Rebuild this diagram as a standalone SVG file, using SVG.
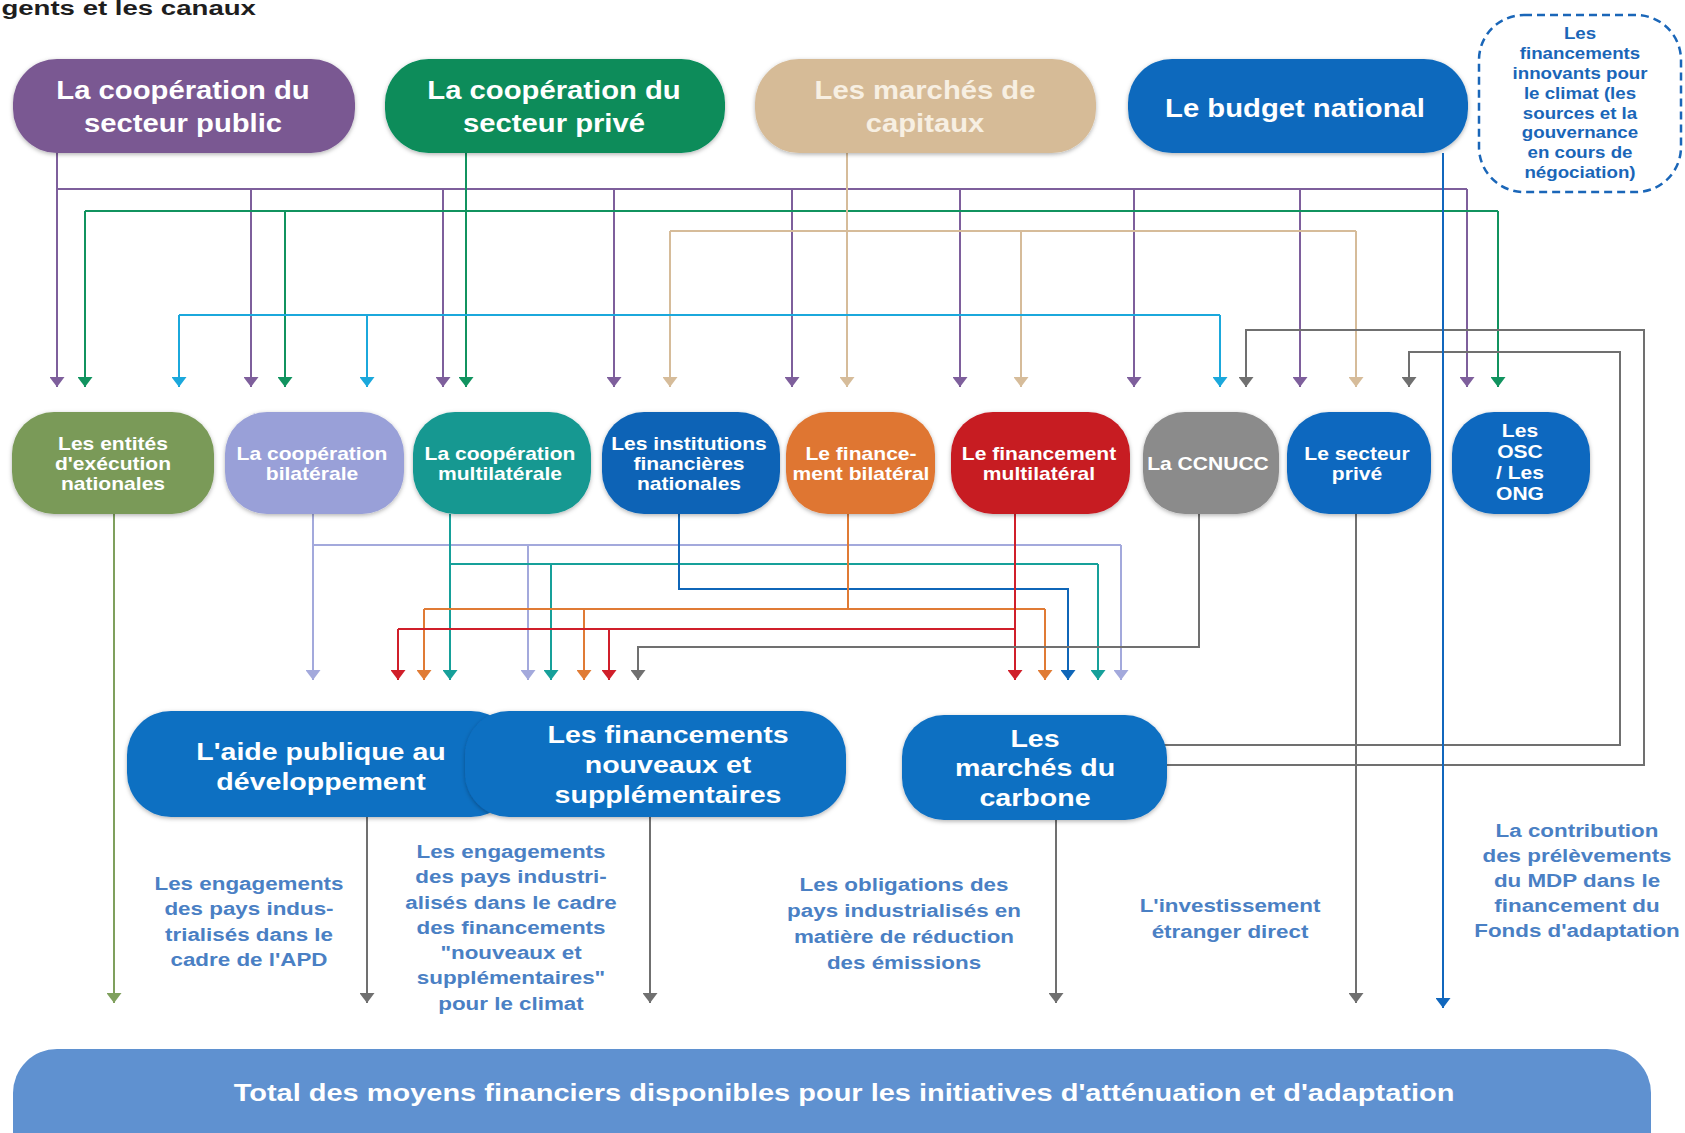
<svg xmlns="http://www.w3.org/2000/svg" width="1685" height="1133" viewBox="0 0 1685 1133">
<style>
text{font-family:"Liberation Sans",Arial,sans-serif;font-weight:bold;text-anchor:middle}
.tt{font-size:25px;fill:#fff}
.tan{fill:#f7efe2}
.mt{font-size:18px;fill:#fff}
.lt{font-size:24px;fill:#fff}
.lb{font-size:17.5px;fill:#4a80c4}
.dt{font-size:17px;fill:#1a66b8}
.bt{font-size:23px;fill:#fff}
.title{font-size:20px;fill:#1e1e1e;text-anchor:start}
.node{filter:url(#sh)}
#connectors path{fill:none;stroke-width:2}
.pu{stroke:#7e5f9c}.gr{stroke:#11935f}.ta{stroke:#d6bc9a}.cy{stroke:#1ba8dc}.gy{stroke:#707070}
.bu{stroke:#1167bd}.ol{stroke:#7fa05d}.la{stroke:#a3a9dc}.te{stroke:#16a09a}.in{stroke:#0f66b8}
.or{stroke:#e07b35}.re{stroke:#d01f2a}
</style>
<defs>
<filter id="sh" x="-10%" y="-10%" width="120%" height="130%">
<feDropShadow dx="0" dy="1.5" stdDeviation="2" flood-color="#000" flood-opacity="0.3"/>
</filter>
<marker id="a-pu" viewBox="0 0 10 15" markerUnits="userSpaceOnUse" markerWidth="10" markerHeight="15" refX="10" refY="7.5" orient="auto"><path d="M0,0 L10,7.5 L0,15 Z" fill="#7e5f9c"/></marker>
<marker id="a-gr" viewBox="0 0 10 15" markerUnits="userSpaceOnUse" markerWidth="10" markerHeight="15" refX="10" refY="7.5" orient="auto"><path d="M0,0 L10,7.5 L0,15 Z" fill="#11935f"/></marker>
<marker id="a-ta" viewBox="0 0 10 15" markerUnits="userSpaceOnUse" markerWidth="10" markerHeight="15" refX="10" refY="7.5" orient="auto"><path d="M0,0 L10,7.5 L0,15 Z" fill="#d6bc9a"/></marker>
<marker id="a-cy" viewBox="0 0 10 15" markerUnits="userSpaceOnUse" markerWidth="10" markerHeight="15" refX="10" refY="7.5" orient="auto"><path d="M0,0 L10,7.5 L0,15 Z" fill="#1ba8dc"/></marker>
<marker id="a-gy" viewBox="0 0 10 15" markerUnits="userSpaceOnUse" markerWidth="10" markerHeight="15" refX="10" refY="7.5" orient="auto"><path d="M0,0 L10,7.5 L0,15 Z" fill="#707070"/></marker>
<marker id="a-bu" viewBox="0 0 10 15" markerUnits="userSpaceOnUse" markerWidth="10" markerHeight="15" refX="10" refY="7.5" orient="auto"><path d="M0,0 L10,7.5 L0,15 Z" fill="#1167bd"/></marker>
<marker id="a-ol" viewBox="0 0 10 15" markerUnits="userSpaceOnUse" markerWidth="10" markerHeight="15" refX="10" refY="7.5" orient="auto"><path d="M0,0 L10,7.5 L0,15 Z" fill="#7fa05d"/></marker>
<marker id="a-la" viewBox="0 0 10 15" markerUnits="userSpaceOnUse" markerWidth="10" markerHeight="15" refX="10" refY="7.5" orient="auto"><path d="M0,0 L10,7.5 L0,15 Z" fill="#a3a9dc"/></marker>
<marker id="a-te" viewBox="0 0 10 15" markerUnits="userSpaceOnUse" markerWidth="10" markerHeight="15" refX="10" refY="7.5" orient="auto"><path d="M0,0 L10,7.5 L0,15 Z" fill="#16a09a"/></marker>
<marker id="a-in" viewBox="0 0 10 15" markerUnits="userSpaceOnUse" markerWidth="10" markerHeight="15" refX="10" refY="7.5" orient="auto"><path d="M0,0 L10,7.5 L0,15 Z" fill="#0f66b8"/></marker>
<marker id="a-or" viewBox="0 0 10 15" markerUnits="userSpaceOnUse" markerWidth="10" markerHeight="15" refX="10" refY="7.5" orient="auto"><path d="M0,0 L10,7.5 L0,15 Z" fill="#e07b35"/></marker>
<marker id="a-re" viewBox="0 0 10 15" markerUnits="userSpaceOnUse" markerWidth="10" markerHeight="15" refX="10" refY="7.5" orient="auto"><path d="M0,0 L10,7.5 L0,15 Z" fill="#d01f2a"/></marker>
</defs>
<rect width="1685" height="1133" fill="#fff"/>

<g id="title" transform="scale(1.38 1)"><text class="title" x="1" y="15">gents et les canaux</text></g>

<g id="connectors">
<path class="pu" d="M57,153 V387" marker-end="url(#a-pu)"/>
<path class="pu" d="M57,189 H1467"/>
<path class="pu" d="M251,189 V387" marker-end="url(#a-pu)"/>
<path class="pu" d="M443,189 V387" marker-end="url(#a-pu)"/>
<path class="pu" d="M614,189 V387" marker-end="url(#a-pu)"/>
<path class="pu" d="M792,189 V387" marker-end="url(#a-pu)"/>
<path class="pu" d="M960,189 V387" marker-end="url(#a-pu)"/>
<path class="pu" d="M1134,189 V387" marker-end="url(#a-pu)"/>
<path class="pu" d="M1300,189 V387" marker-end="url(#a-pu)"/>
<path class="pu" d="M1467,189 V387" marker-end="url(#a-pu)"/>
<path class="gr" d="M85,211 H1498"/>
<path class="gr" d="M466,153 V387" marker-end="url(#a-gr)"/>
<path class="gr" d="M85,211 V387" marker-end="url(#a-gr)"/>
<path class="gr" d="M285,211 V387" marker-end="url(#a-gr)"/>
<path class="gr" d="M1498,211 V387" marker-end="url(#a-gr)"/>
<path class="ta" d="M670,231 H1356"/>
<path class="ta" d="M847,153 V387" marker-end="url(#a-ta)"/>
<path class="ta" d="M670,231 V387" marker-end="url(#a-ta)"/>
<path class="ta" d="M1021,231 V387" marker-end="url(#a-ta)"/>
<path class="ta" d="M1356,231 V387" marker-end="url(#a-ta)"/>
<path class="cy" d="M179,315 H1220"/>
<path class="cy" d="M179,315 V387" marker-end="url(#a-cy)"/>
<path class="cy" d="M367,315 V387" marker-end="url(#a-cy)"/>
<path class="cy" d="M1220,315 V387" marker-end="url(#a-cy)"/>
<path class="gy" d="M1164,765 H1644 V330 H1246 V387" marker-end="url(#a-gy)"/>
<path class="gy" d="M1164,745 H1620 V352 H1409 V387" marker-end="url(#a-gy)"/>
<path class="bu" d="M1443,153 V1008" marker-end="url(#a-bu)"/>
<path class="ol" d="M114,514 V1003" marker-end="url(#a-ol)"/>
<path class="la" d="M313,545 H1121"/>
<path class="la" d="M313,514 V680" marker-end="url(#a-la)"/>
<path class="la" d="M528,545 V680" marker-end="url(#a-la)"/>
<path class="la" d="M1121,545 V680" marker-end="url(#a-la)"/>
<path class="te" d="M450,564 H1098"/>
<path class="te" d="M450,514 V680" marker-end="url(#a-te)"/>
<path class="te" d="M551,564 V680" marker-end="url(#a-te)"/>
<path class="te" d="M1098,564 V680" marker-end="url(#a-te)"/>
<path class="in" d="M679,514 V589 H1068 V680" marker-end="url(#a-in)"/>
<path class="or" d="M424,609 H1045"/>
<path class="or" d="M848,514 V609"/>
<path class="or" d="M424,609 V680" marker-end="url(#a-or)"/>
<path class="or" d="M584,609 V680" marker-end="url(#a-or)"/>
<path class="or" d="M1045,609 V680" marker-end="url(#a-or)"/>
<path class="re" d="M398,629 H1015"/>
<path class="re" d="M1015,514 V680" marker-end="url(#a-re)"/>
<path class="re" d="M398,629 V680" marker-end="url(#a-re)"/>
<path class="re" d="M609,629 V680" marker-end="url(#a-re)"/>
<path class="gy" d="M1199,514 V647 H638 V680" marker-end="url(#a-gy)"/>
<path class="gy" d="M1356,514 V1003" marker-end="url(#a-gy)"/>
<path class="gy" d="M367,817 V1003" marker-end="url(#a-gy)"/>
<path class="gy" d="M650,817 V1003" marker-end="url(#a-gy)"/>
<path class="gy" d="M1056,820 V1003" marker-end="url(#a-gy)"/>
</g>

<g id="n-public"><rect class="node" x="13" y="59" width="342" height="94" rx="44" fill="#7a5892"/>
<g transform="translate(183 0) scale(1.17 1)"><text class="tt" y="99">La coopération du</text><text class="tt" y="132">secteur public</text></g></g>
<g id="n-prive"><rect class="node" x="385" y="59" width="340" height="94" rx="44" fill="#078c5a"/>
<g transform="translate(554 0) scale(1.17 1)"><text class="tt" y="99">La coopération du</text><text class="tt" y="132">secteur privé</text></g></g>
<g id="n-capitaux"><rect class="node" x="755" y="59" width="341" height="94" rx="44" fill="#d6bb97"/>
<g transform="translate(925 0) scale(1.17 1)"><text class="tt tan" y="99">Les marchés de</text><text class="tt tan" y="132">capitaux</text></g></g>
<g id="n-budget"><rect class="node" x="1128" y="59" width="340" height="94" rx="44" fill="#0b69bd"/>
<g transform="translate(1295 0) scale(1.17 1)"><text class="tt" y="117">Le budget national</text></g></g>
<g id="n-innovants"><rect x="1479" y="15" width="202" height="177" rx="45" fill="#fff" stroke="#1a66b8" stroke-width="2.5" stroke-dasharray="8 5"/>
<g transform="translate(1580 0) scale(1.1 1)"><text class="dt" y="39">Les</text><text class="dt" y="59">financements</text><text class="dt" y="79">innovants pour</text><text class="dt" y="99">le climat (les</text><text class="dt" y="119">sources et la</text><text class="dt" y="138">gouvernance</text><text class="dt" y="158">en cours de</text><text class="dt" y="178">négociation)</text></g></g>

<g id="n-entites"><rect class="node" x="12" y="412" width="202" height="102" rx="42" fill="#7a9a58"/>
<g transform="translate(113 0) scale(1.17 1)"><text class="mt" y="450">Les entités</text><text class="mt" y="470">d'exécution</text><text class="mt" y="490">nationales</text></g></g>
<g id="n-bilaterale"><rect class="node" x="225" y="412" width="179" height="102" rx="42" fill="#99a0d8"/>
<g transform="translate(312 0) scale(1.17 1)"><text class="mt" y="460">La coopération</text><text class="mt" y="480">bilatérale</text></g></g>
<g id="n-multilaterale"><rect class="node" x="413" y="412" width="178" height="102" rx="42" fill="#139891"/>
<g transform="translate(500 0) scale(1.17 1)"><text class="mt" y="460">La coopération</text><text class="mt" y="480">multilatérale</text></g></g>
<g id="n-institutions"><rect class="node" x="602" y="412" width="178" height="102" rx="42" fill="#0b63b6"/>
<g transform="translate(689 0) scale(1.17 1)"><text class="mt" y="450">Les institutions</text><text class="mt" y="470">financières</text><text class="mt" y="490">nationales</text></g></g>
<g id="n-fin-bilateral"><rect class="node" x="786" y="412" width="149" height="102" rx="42" fill="#df7632"/>
<g transform="translate(861 0) scale(1.17 1)"><text class="mt" y="460">Le finance-</text><text class="mt" y="480">ment bilatéral</text></g></g>
<g id="n-fin-multilateral"><rect class="node" x="951" y="412" width="179" height="102" rx="42" fill="#c71a22"/>
<g transform="translate(1039 0) scale(1.17 1)"><text class="mt" y="460">Le financement</text><text class="mt" y="480">multilatéral</text></g></g>
<g id="n-ccnucc"><rect class="node" x="1143" y="412" width="136" height="102" rx="42" fill="#8b8b8b"/>
<g transform="translate(1208 0) scale(1.17 1)"><text class="mt" y="470">La CCNUCC</text></g></g>
<g id="n-secteur-prive"><rect class="node" x="1287" y="412" width="144" height="102" rx="42" fill="#0d68bf"/>
<g transform="translate(1357 0) scale(1.17 1)"><text class="mt" y="460">Le secteur</text><text class="mt" y="480">privé</text></g></g>
<g id="n-osc"><rect class="node" x="1452" y="412" width="138" height="102" rx="42" fill="#0d68bf"/>
<g transform="translate(1520 0) scale(1.17 1)"><text class="mt" y="437">Les</text><text class="mt" y="458">OSC</text><text class="mt" y="479">/ Les</text><text class="mt" y="500">ONG</text></g></g>

<g id="n-apd"><rect class="node" x="127" y="711" width="388" height="106" rx="44" fill="#0e6fc2"/>
<g transform="translate(321 0) scale(1.19 1)"><text class="lt" y="760">L'aide publique au</text><text class="lt" y="790">développement</text></g></g>
<g id="n-nouveaux"><rect class="node" x="465" y="711" width="381" height="106" rx="44" fill="#0e6fc2"/>
<g transform="translate(668 0) scale(1.19 1)"><text class="lt" y="743">Les financements</text><text class="lt" y="773">nouveaux et</text><text class="lt" y="803">supplémentaires</text></g></g>
<g id="n-carbone"><rect class="node" x="902" y="715" width="265" height="105" rx="42" fill="#0e6fc2"/>
<g transform="translate(1035 0) scale(1.19 1)"><text class="lt" y="747">Les</text><text class="lt" y="776">marchés du</text><text class="lt" y="806">carbone</text></g></g>

<g id="l-apd" transform="translate(249 0) scale(1.28 1)"><text class="lb" y="890">Les engagements</text><text class="lb" y="915.5">des pays indus-</text><text class="lb" y="941">trialisés dans le</text><text class="lb" y="966.5">cadre de l'APD</text></g>
<g id="l-nouveaux" transform="translate(511 0) scale(1.28 1)"><text class="lb" y="858">Les engagements</text><text class="lb" y="883">des pays industri-</text><text class="lb" y="909">alisés dans le cadre</text><text class="lb" y="934">des financements</text><text class="lb" y="959">"nouveaux et</text><text class="lb" y="984">supplémentaires"</text><text class="lb" y="1010">pour le climat</text></g>
<g id="l-carbone" transform="translate(904 0) scale(1.28 1)"><text class="lb" y="891">Les obligations des</text><text class="lb" y="917">pays industrialisés en</text><text class="lb" y="943">matière de réduction</text><text class="lb" y="969">des émissions</text></g>
<g id="l-ide" transform="translate(1230 0) scale(1.28 1)"><text class="lb" y="912">L'investissement</text><text class="lb" y="938">étranger direct</text></g>
<g id="l-mdp" transform="translate(1577 0) scale(1.28 1)"><text class="lb" y="837">La contribution</text><text class="lb" y="862">des prélèvements</text><text class="lb" y="887">du MDP dans le</text><text class="lb" y="912">financement du</text><text class="lb" y="937">Fonds d'adaptation</text></g>

<g id="n-total"><rect x="13" y="1049" width="1638" height="130" rx="44" fill="#5f91d0"/>
<g transform="translate(844 0) scale(1.26 1)"><text class="bt" y="1101">Total des moyens financiers disponibles pour les initiatives d'atténuation et d'adaptation</text></g></g>
</svg>
